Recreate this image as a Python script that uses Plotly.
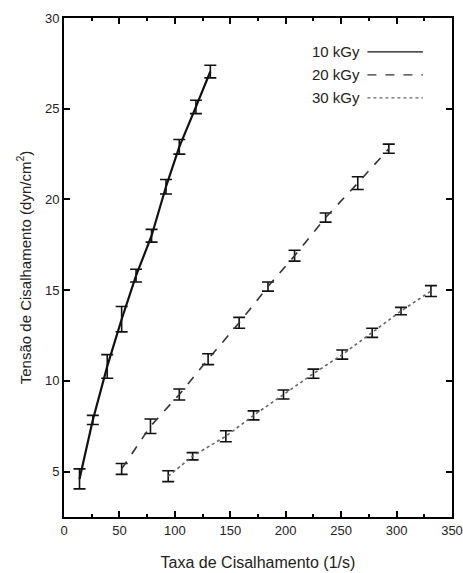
import plotly.graph_objects as go

# 10 kGy (solid)
x10 = [14, 26, 39, 52, 65, 79, 92, 104, 119, 132]
y10 = [4.6, 7.85, 10.8, 13.4, 15.8, 18.0, 20.7, 22.9, 25.1, 27.05]
e10 = [0.55, 0.25, 0.65, 0.7, 0.35, 0.35, 0.4, 0.4, 0.37, 0.35]

# 20 kGy (dashed)
x20 = [52, 78, 104, 130, 158, 184, 208, 236, 265, 293]
y20 = [5.15, 7.5, 9.25, 11.2, 13.2, 15.2, 16.9, 19.0, 20.9, 22.8]
e20 = [0.3, 0.4, 0.3, 0.3, 0.3, 0.25, 0.3, 0.25, 0.35, 0.25]

# 30 kGy (dotted)
x30 = [94, 116, 146, 171, 198, 225, 251, 278, 304, 331]
y30 = [4.75, 5.85, 6.95, 8.1, 9.25, 10.4, 11.45, 12.65, 13.85, 14.95]
e30 = [0.3, 0.2, 0.3, 0.25, 0.25, 0.25, 0.25, 0.25, 0.2, 0.3]

labels = ["10 kGy", "20 kGy", "30 kGy"]
xticks = [0, 50, 100, 150, 200, 250, 300, 350]
yticks = [5, 10, 15, 20, 25, 30]

series = [
    (x10, y10, e10, "solid", "#111111", 2.2),
    (x20, y20, e20, "dash", "#333333", 1.6),
    (x30, y30, e30, "dot", "#666666", 1.6),
]

fig = go.Figure()
for (xs, ys, es, dash, col, w), name in zip(series, labels):
    fig.add_trace(go.Scatter(
        x=xs, y=ys, mode="lines", name=name,
        line=dict(color=col, width=w, dash=dash),
        error_y=dict(type="data", array=es, visible=True, color="#111111",
                     thickness=1.6, width=6),
        showlegend=False,
    ))

# manual legend (text left, line sample right)
leg_y = [0.932, 0.886, 0.840]
for (xs, ys, es, dash, col, w), name, ly in zip(series, labels, leg_y):
    fig.add_annotation(x=0.768, y=ly, xref="paper", yref="paper", text=name,
                       showarrow=False, xanchor="right", yanchor="middle",
                       font=dict(family="Liberation Sans", size=15, color="#222222"))
    fig.add_shape(type="line", xref="paper", yref="paper", x0=0.782, x1=0.925,
                  y0=ly, y1=ly, line=dict(color=col, width=1.3, dash=dash))

axis_common = dict(
    showline=True, linecolor="black", linewidth=2, mirror="ticks",
    ticks="inside", ticklen=6, tickwidth=1.5, tickcolor="black",
    showgrid=False, zeroline=False, automargin=False,
    tickfont=dict(family="Liberation Sans Narrow, Liberation Sans", size=13, color="#222222"),
)

fig.update_xaxes(range=[0, 350], tickvals=xticks, **axis_common,
                 ticklabeloverflow="allow",
                 minor=dict(ticks="inside", ticklen=3, dtick=25, tickcolor="black"),
                 title=dict(text="Taxa de Cisalhamento (1/s)", standoff=20,
                            font=dict(family="Liberation Sans", size=16, color="#222222")))
fig.update_yaxes(range=[2.5, 30], tickvals=yticks, **axis_common,
                 title=dict(text="Tensão de Cisalhamento (dyn/cm<sup>2</sup>)", standoff=10,
                            font=dict(family="Liberation Sans", size=15, color="#222222")))

fig.update_layout(
    width=463, height=573,
    margin=dict(l=64, r=11, t=18, b=56),
    paper_bgcolor="white", plot_bgcolor="white",
)

fig.write_html("out.html")
